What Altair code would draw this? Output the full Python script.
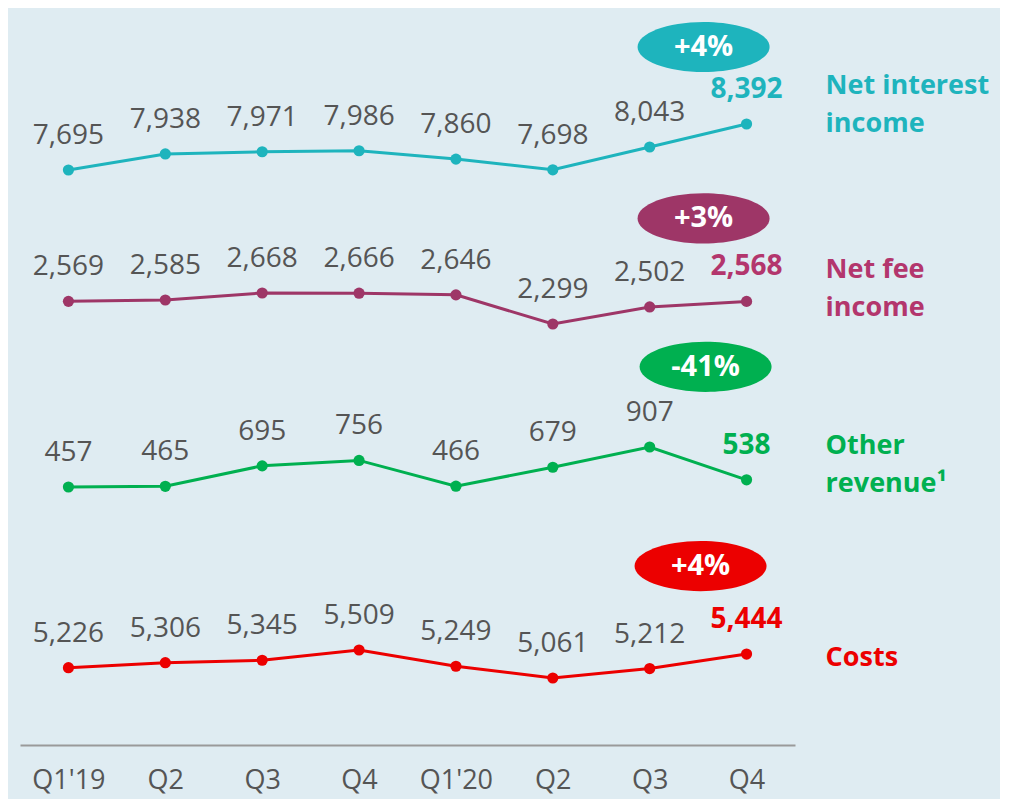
import json
import altair as alt
import pandas as pd

# ---------------- data ----------------
quarter_labels = ["Q1'19", "Q2", "Q3", "Q4", "Q1'20", "Q2", "Q3", "Q4"]
net_interest_income = [7695, 7938, 7971, 7986, 7860, 7698, 8043, 8392]
net_fee_income = [2569, 2585, 2668, 2666, 2646, 2299, 2502, 2568]
other_revenue = [457, 465, 695, 756, 466, 679, 907, 538]
costs = [5226, 5306, 5345, 5509, 5249, 5061, 5212, 5444]
series_names = ["Net interest\nincome", "Net fee\nincome", "Other\nrevenue\u00b9", "Costs"]
yoy_changes = ["+4%", "+3%", "-41%", "+4%"]

series_values = [net_interest_income, net_fee_income, other_revenue, costs]

# ---------------- styling / layout ----------------
FONT = "Open Sans"
GREY = "#555555"
BG = "#dfecf2"
line_colors = ["#1eb4bd", "#9e3667", "#00b050", "#ec0000"]
name_colors = ["#1eb4bd", "#b3366d", "#00b050", "#ec0000"]
# each series lives in its own band of the chart -> own y scale
y_domains = [[-1017, 10028], [-2713, 5966], [-2445, 5755], [3989, 15653]]
badge_offsets = [(-43, -77), (-43, -83), (-41, -113), (-46, -88)]
name_dy = [-38, -31, -34, 4]
ELLIPSE = "M-1,0A1,0.38,0,1,1,1,0A1,0.38,0,1,1,-1,0Z"

x_enc = alt.X(
    "qi:O",
    scale=alt.Scale(type="point", padding=0.5),
    axis=alt.Axis(
        title=None,
        labelExpr=json.dumps(quarter_labels) + "[datum.value]",
        labelAngle=0,
        labelFont=FONT,
        labelFontSize=27,
        labelColor=GREY,
        labelPadding=22,
        ticks=False,
        grid=False,
        domain=True,
        domainColor="#9a9a9a",
        domainWidth=2,
    ),
)


def series_layer(i):
    vals = series_values[i]
    df = pd.DataFrame(
        {
            "qi": list(range(len(vals))),
            "value": vals,
            "last": [False] * (len(vals) - 1) + [True],
        }
    )
    c = line_colors[i]
    bdx, bdy = badge_offsets[i]
    base = alt.Chart(df).encode(
        x=x_enc,
        y=alt.Y(
            "value:Q",
            scale=alt.Scale(domain=y_domains[i], zero=False, nice=False),
            axis=None,
        ),
    )
    line = base.mark_line(color=c, strokeWidth=3)
    pts = base.mark_circle(color=c, size=125, opacity=1)
    labels = base.transform_filter("!datum.last").mark_text(
        font=FONT, fontSize=28, color=GREY, dy=-34, baseline="middle", align="center"
    ).encode(text=alt.Text("value:Q", format=","))
    last_label = base.transform_filter("datum.last").mark_text(
        font=FONT, fontSize=28, fontWeight="bold", color=name_colors[i],
        dy=-34, baseline="middle", align="center"
    ).encode(text=alt.Text("value:Q", format=","))
    badge = base.transform_filter("datum.last").mark_point(
        shape=ELLIPSE, size=17424, filled=True, fill=c, opacity=1,
        strokeWidth=0, xOffset=bdx, yOffset=bdy
    )
    badge_text = base.transform_filter("datum.last").mark_text(
        font=FONT, fontSize=29, fontWeight="bold", color="white",
        dx=bdx, dy=bdy, baseline="middle", align="center"
    ).encode(text=alt.value(yoy_changes[i]))
    name = base.transform_filter("datum.last").mark_text(
        font=FONT, fontSize=27, fontWeight="bold", color=name_colors[i],
        dx=79, dy=name_dy[i], baseline="middle", align="left",
        lineBreak="\n", lineHeight=38
    ).encode(text=alt.value(series_names[i]))
    return alt.layer(line, pts, labels, last_label, badge, badge_text, name)


chart = (
    alt.layer(*[series_layer(i) for i in range(4)])
    .resolve_scale(y="independent")
    .properties(
        width=775,
        height=729,
        padding={"left": 12, "top": 8, "right": 10, "bottom": 6},
        background=BG,
    )
    .configure_view(stroke=None)
)

chart.save("out.html", embed_options={"renderer": "svg", "actions": False})
